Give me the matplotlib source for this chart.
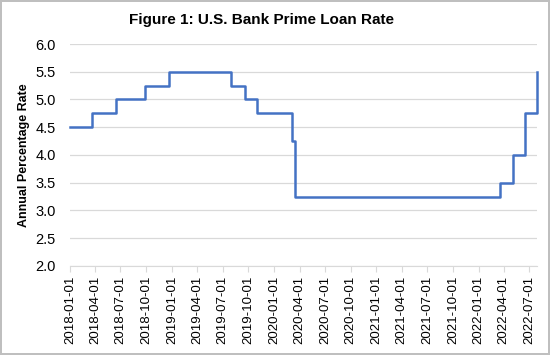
import matplotlib
matplotlib.use("Agg")
import matplotlib.pyplot as plt
import numpy as np
import pandas as pd

plt.rcParams['font.family'] = ['Liberation Sans', 'DejaVu Sans']

# prime rate change dates and levels
change_dates = ['2018-01-01', '2018-03-22', '2018-06-14', '2018-09-27', '2018-12-20',
                '2019-08-01', '2019-09-19', '2019-10-31', '2020-03-04', '2020-03-16',
                '2022-03-17', '2022-05-05', '2022-06-16', '2022-07-28']
rates = [4.50, 4.75, 5.00, 5.25, 5.50, 5.25, 5.00, 4.75, 4.25, 3.25,
         3.50, 4.00, 4.75, 5.50]
tick_labels = ['2018-01-01', '2018-04-01', '2018-07-01', '2018-10-01',
               '2019-01-01', '2019-04-01', '2019-07-01', '2019-10-01',
               '2020-01-01', '2020-04-01', '2020-07-01', '2020-10-01',
               '2021-01-01', '2021-04-01', '2021-07-01', '2021-10-01',
               '2022-01-01', '2022-04-01', '2022-07-01']
y_ticks = [2.0, 2.5, 3.0, 3.5, 4.0, 4.5, 5.0, 5.5, 6.0]

dates = pd.to_datetime(change_dates)

fig = plt.figure(figsize=(5.5, 3.55), dpi=100)
fig.patch.set_edgecolor('#bfbfbf')
fig.patch.set_linewidth(1.5)
ax = fig.add_axes([0.127, 0.251, 0.849, 0.625])

ax.step(dates, rates, where='post', color='#4472C4', lw=1.8, clip_on=False)

ax.set_ylim(2.0, 6.0)
ax.set_yticks(y_ticks)
ax.set_yticklabels([f'{v:.1f}' for v in y_ticks], fontsize=10.5)
ax.set_xlim(dates[0], dates[-1])
ax.set_xticks(pd.to_datetime(tick_labels))
ax.set_xticklabels(tick_labels, rotation=90, fontsize=9.5)

ax.grid(axis='y', color='#d9d9d9', lw=0.9)
ax.set_axisbelow(True)
for s in ['top', 'right', 'left']:
    ax.spines[s].set_visible(False)
ax.spines['bottom'].set_color('#d9d9d9')
ax.tick_params(axis='y', length=0, pad=10)
ax.tick_params(axis='x', length=4, color='#d9d9d9', pad=3)

ax.set_ylabel('Annual Percentage Rate', fontsize=9, fontweight='bold', labelpad=4)
fig.text(0.475, 0.945, 'Figure 1: U.S. Bank Prime Loan Rate', fontsize=11,
         fontweight='bold', ha='center', va='center')

fig.savefig('out.png', dpi=100)
